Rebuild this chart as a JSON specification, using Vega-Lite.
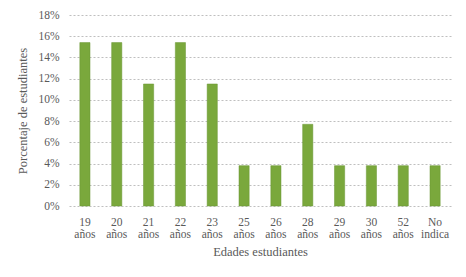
{
  "$schema": "https://vega.github.io/schema/vega-lite/v6.json",
  "width": 382,
  "height": 191,
  "autosize": {"type": "none"},
  "padding": {"left": 69, "top": 15, "right": 15, "bottom": 71},
  "background": "white",
  "config": {
    "view": {"stroke": null},
    "font": "Times New Roman, Liberation Serif, serif",
    "axis": {"labelFont": "Times New Roman, Liberation Serif, serif", "titleFont": "Times New Roman, Liberation Serif, serif", "labelColor": "#595959", "titleColor": "#595959", "titleFontWeight": "normal"}
  },
  "data": {
    "values": [
      {"edad": "19 años", "pct": 0.154},
      {"edad": "20 años", "pct": 0.154},
      {"edad": "21 años", "pct": 0.115},
      {"edad": "22 años", "pct": 0.154},
      {"edad": "23 años", "pct": 0.115},
      {"edad": "25 años", "pct": 0.038},
      {"edad": "26 años", "pct": 0.038},
      {"edad": "28 años", "pct": 0.077},
      {"edad": "29 años", "pct": 0.038},
      {"edad": "30 años", "pct": 0.038},
      {"edad": "52 años", "pct": 0.038},
      {"edad": "No indica", "pct": 0.038}
    ]
  },
  "mark": {"type": "bar", "color": "#7aa83c", "stroke": "#6b9634", "strokeWidth": 0.5},
  "encoding": {
    "x": {
      "field": "edad", "type": "nominal", "sort": null,
      "scale": {"paddingInner": 0.68, "paddingOuter": 0.34},
      "axis": {"title": "Edades estudiantes", "labelFont": "Times New Roman, Liberation Serif, serif", "labelAngle": 0, "labelFontSize": 11.5, "titleFontSize": 12.5, "ticks": false, "domain": false, "labelPadding": 10, "labelExpr": "split(datum.label, ' ')", "labelLineHeight": 12, "titlePadding": 6}
    },
    "y": {
      "field": "pct", "type": "quantitative",
      "scale": {"domain": [0, 0.18], "nice": false},
      "axis": {"title": "Porcentaje de estudiantes", "labelFont": "Times New Roman, Liberation Serif, serif", "format": ".0%", "values": [0, 0.02, 0.04, 0.06, 0.08, 0.1, 0.12, 0.14, 0.16, 0.18], "labelOverlap": false, "labelFontSize": 11.5, "titleFontSize": 12.5, "ticks": false, "domain": false, "labelPadding": 10, "gridColor": "#bfbfbf", "gridDash": [2, 2], "gridWidth": 1, "titlePadding": 8}
    }
  }
}
